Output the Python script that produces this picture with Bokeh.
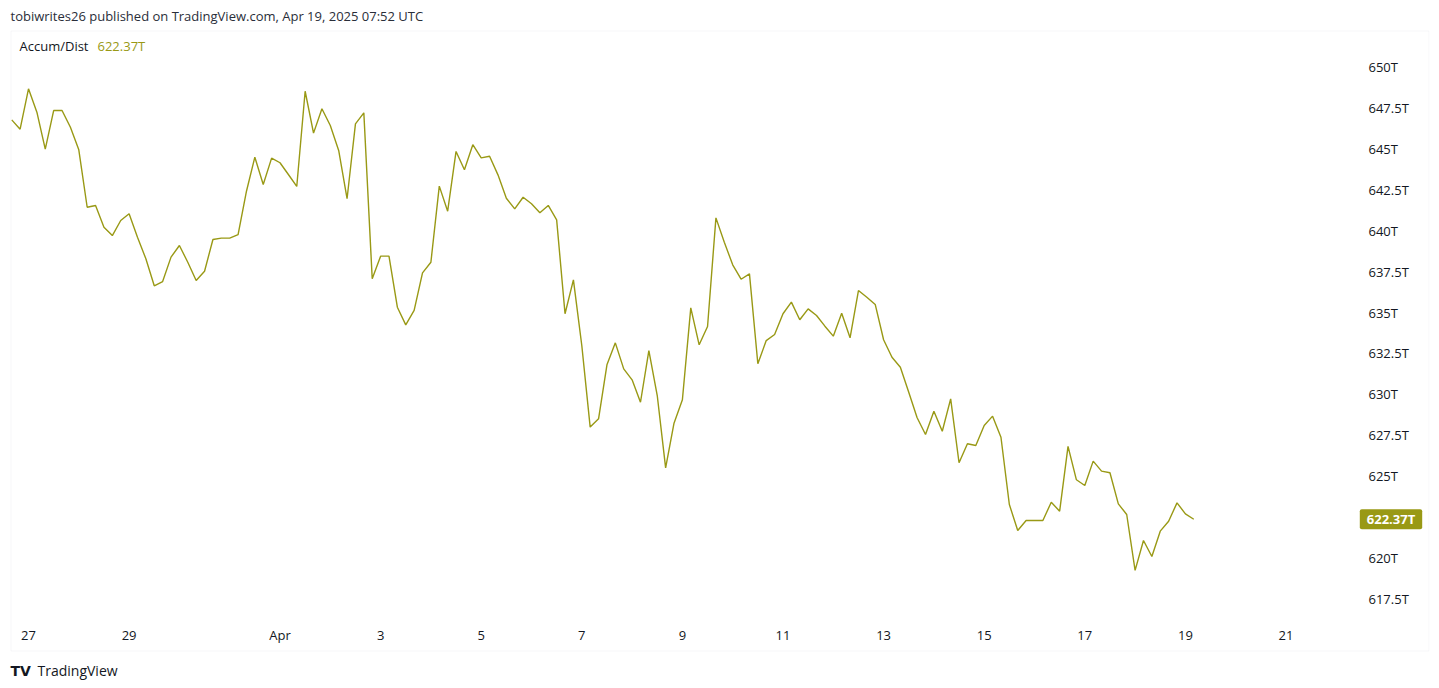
import pandas as pd
from bokeh.plotting import figure
from bokeh.models import Range1d, FixedTicker, Label, BoxAnnotation
from bokeh.embed import file_html
from bokeh.resources import INLINE
from bokeh.core.enums import CoordinateUnits

# ---- data (Accumulation/Distribution, 4h bars, values in trillions) ----
ad_values = [
    646.78, 646.21, 648.68, 647.25, 644.99, 647.35, 647.35, 646.33, 644.95, 641.44,
    641.55, 640.22, 639.71, 640.63, 641.04, 639.61, 638.29, 636.64, 636.90, 638.39,
    639.10, 638.08, 636.96, 637.53, 639.47, 639.55, 639.55, 639.77, 642.42, 644.50,
    642.83, 644.44, 644.16, 643.44, 642.71, 648.53, 645.97, 647.46, 646.44, 644.91,
    641.96, 646.54, 647.21, 637.07, 638.45, 638.45, 635.33, 634.25, 635.13, 637.43,
    638.08, 642.73, 641.20, 644.85, 643.73, 645.26, 644.46, 644.56, 643.42, 641.99,
    641.34, 642.05, 641.65, 641.10, 641.55, 640.67, 634.93, 637.00, 632.99, 628.00,
    628.51, 631.81, 633.15, 631.56, 630.89, 629.52, 632.68, 629.93, 625.51, 628.24,
    629.67, 635.29, 633.03, 634.15, 640.79, 639.30, 637.92, 637.04, 637.37, 631.87,
    633.29, 633.66, 634.93, 635.64, 634.56, 635.23, 634.82, 634.17, 633.56, 634.96,
    633.46, 636.35, 635.94, 635.50, 633.34, 632.27, 631.66, 630.13, 628.57, 627.55,
    628.97, 627.75, 629.73, 625.82, 626.98, 626.88, 628.10, 628.67, 627.38, 623.27,
    621.68, 622.29, 622.29, 622.29, 623.41, 622.86, 626.82, 624.78, 624.43, 625.92,
    625.31, 625.21, 623.31, 622.66, 619.24, 621.07, 620.09, 621.64, 622.25, 623.37,
    622.70, 622.37,
]
first_bar = "2025-03-26 16:00"
bar_freq = "4h"
last_value = 622.37

tick_dates = ["2025-03-27", "2025-03-29", "2025-04-01", "2025-04-03", "2025-04-05",
              "2025-04-07", "2025-04-09", "2025-04-11", "2025-04-13", "2025-04-15",
              "2025-04-17", "2025-04-19", "2025-04-21"]
tick_labels = ["27", "29", "Apr", "3", "5", "7", "9", "11", "13", "15", "17", "19", "21"]

price_ticks = [617.5, 620.0, 622.5, 625.0, 627.5, 630.0, 632.5, 635.0, 637.5,
               640.0, 642.5, 645.0, 647.5, 650.0]
price_labels = ["617.5T", "620T", "622.5T", "625T", "627.5T", "630T", "632.5T", "635T",
                "637.5T", "640T", "642.5T", "645T", "647.5T", "650T"]

header_text = "tobiwrites26 published on TradingView.com, Apr 19, 2025 07:52 UTC"
indicator_name = "Accum/Dist"
value_text = "622.37T"
brand_text = "TradingView"

# ---- helpers ----
def ms(ts):
    return pd.Timestamp(ts).value / 1e6

bar_times = pd.date_range(first_bar, periods=len(ad_values), freq=bar_freq)
x_ms = [t.value / 1e6 for t in bar_times]

DAY = 86400000.0
x0 = ms("2025-03-27")

LINE = "#999915"
TXT = "#131722"
FONT = "Open Sans"

W, H = 1431, 684
FRAME_R, FRAME_B = 1429, 680   # plot frame spans the whole chart panel

p = figure(width=W, height=H, x_axis_type="datetime", y_axis_location="right",
           output_backend="svg", toolbar_location=None,
           x_range=Range1d(x0 - 0.5567 * DAY, x0 + 27.853 * DAY),
           y_range=Range1d(612.512, 654.077),
           min_border_left=0, min_border_right=W - FRAME_R,
           min_border_top=0, min_border_bottom=H - FRAME_B)
p.background_fill_color = "white"
p.border_fill_color = "white"
p.outline_line_color = None
p.xgrid.visible = False
p.ygrid.visible = False

p.line(x=x_ms, y=ad_values, line_color=LINE, line_width=1.4)

xa = p.xaxis[0]
xa.ticker = FixedTicker(ticks=[ms(d) for d in tick_dates])
xa.major_label_overrides = {ms(d): lab for d, lab in zip(tick_dates, tick_labels)}
xa.axis_line_color = None
xa.major_tick_line_color = None
xa.minor_tick_line_color = None
xa.major_tick_out = 0
xa.minor_tick_out = 0
xa.major_label_text_font = FONT
xa.major_label_text_font_size = "13px"
xa.major_label_text_color = TXT
xa.major_label_standoff = -55

ya = p.yaxis[0]
ya.ticker = FixedTicker(ticks=price_ticks)
ya.major_label_overrides = {v: lab for v, lab in zip(price_ticks, price_labels)}
ya.axis_line_color = None
ya.major_tick_line_color = None
ya.minor_tick_line_color = None
ya.major_tick_out = 0
ya.minor_tick_out = 0
ya.major_label_text_font = FONT
ya.major_label_text_font_size = "13px"
ya.major_label_text_color = TXT
ya.major_label_standoff = -61

U = "canvas" if "canvas" in CoordinateUnits else "screen"

def cy(y):
    return y if U == "canvas" else FRAME_B - y

frame_box = BoxAnnotation(left=10.5, right=1428.5, top=cy(30.5), bottom=cy(650.5),
                          left_units=U, right_units=U, top_units=U, bottom_units=U,
                          fill_alpha=0, line_color="#e3e6ec", line_width=1)
p.add_layout(frame_box)

def add_label(x, y, text, size="13px", color=TXT, style="normal", font=FONT, **kw):
    lab = Label(x=x, y=cy(y), x_units=U, y_units=U, text=text,
                text_font=font, text_font_size=size, text_color=color,
                text_font_style=style, text_align="left", text_baseline="middle", **kw)
    p.add_layout(lab)
    return lab

add_label(10, 15, header_text, size="13px", color="#2a2e39")
add_label(19, 45, indicator_name, color=TXT)
add_label(97, 45, value_text, color=LINE)
add_label(10, 670, "TV", size="14px", color=TXT, style="bold", font="DejaVu Sans")
add_label(37, 670, brand_text, size="14px", color=TXT)

price_box = Label(x=1390.5, y=last_value, x_units=U, y_units="data", text=value_text,
                  text_font=FONT, text_font_size="13px", text_color="white",
                  text_font_style="bold", text_align="center", text_baseline="middle",
                  background_fill_color=LINE, padding=(7, 1), border_radius=2)
p.add_layout(price_box)

open("out.html", "w").write(file_html(p, INLINE))
